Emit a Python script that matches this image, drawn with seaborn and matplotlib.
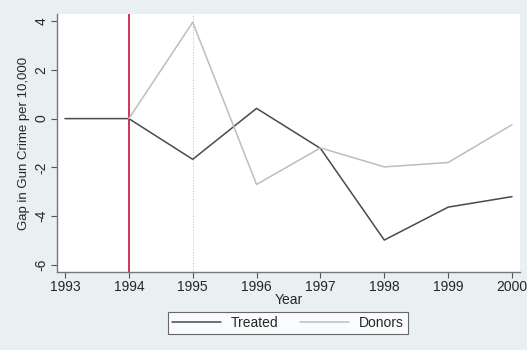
import numpy as np
import pandas as pd
import matplotlib
matplotlib.use("Agg")
import matplotlib.pyplot as plt
import seaborn as sns
from matplotlib.lines import Line2D

years = [1993, 1994, 1995, 1996, 1997, 1998, 1999, 2000]
treated = [0.0, 0.0, -1.67, 0.42, -1.22, -4.98, -3.63, -3.2]
donor_years = [1994, 1995, 1996, 1997, 1998, 1999, 2000]
donors = [0.0, 3.95, -2.7, -1.2, -1.98, -1.8, -0.25]
yticks = [-6, -4, -2, 0, 2, 4]

df = pd.concat([
    pd.DataFrame({"Year": years, "Gap": treated, "Series": "Treated"}),
    pd.DataFrame({"Year": donor_years, "Gap": donors, "Series": "Donors"}),
])

sns.set_style("ticks")
plt.rcParams['font.family'] = ['Liberation Sans', 'DejaVu Sans']

bg = "#e9f0f2"
fig = plt.figure(figsize=(5.27, 3.5), dpi=100, facecolor=bg)
ax = fig.add_axes([57/527, 1 - 272/350, (520-57)/527, (272-14)/350])
ax.set_facecolor("white")

sns.lineplot(data=df, x="Year", y="Gap", hue="Series",
             palette={"Treated": "#4a4a4a", "Donors": "#bdbdbd"},
             linewidth=1.1, ax=ax, legend=False)

ax.axvline(1994, color="#c8103e", linewidth=1.2, zorder=0)
ax.axvline(1995, color="#c8c8c8", linewidth=0.8, linestyle=(0, (1, 1.5)), zorder=0)

ax.set_xlim(1992.875, 2000.125)
ax.set_ylim(-6.29, 4.29)
ax.set_xticks(years)
ax.set_yticks(yticks)
ax.set_yticklabels([str(v) for v in yticks], rotation=90, va="center")
ax.tick_params(axis="both", labelsize=10, color="#555555", length=4, width=0.8, pad=2)
for s in ["top", "right"]:
    ax.spines[s].set_visible(False)
for s in ["left", "bottom"]:
    ax.spines[s].set_color("#777777")
    ax.spines[s].set_linewidth(1.0)
ax.set_xlabel("Year", fontsize=10, labelpad=-1)
ax.set_ylabel("Gap in Gun Crime per 10,000", fontsize=9.5, labelpad=3)

handles = [Line2D([], [], color="#4a4a4a", lw=1.1), Line2D([], [], color="#bdbdbd", lw=1.1)]
leg = fig.legend(handles, ["Treated", "Donors"], loc="center",
                 bbox_to_anchor=(288/527, 1 - 323/350), ncol=2, fontsize=10,
                 frameon=True, fancybox=False, edgecolor="#444444",
                 handlelength=3.5, columnspacing=1.6, borderpad=0.3, handletextpad=0.7)
leg.get_frame().set_linewidth(0.8)
leg.get_frame().set_facecolor("white")

fig.savefig("out.png", dpi=100, facecolor=bg)
